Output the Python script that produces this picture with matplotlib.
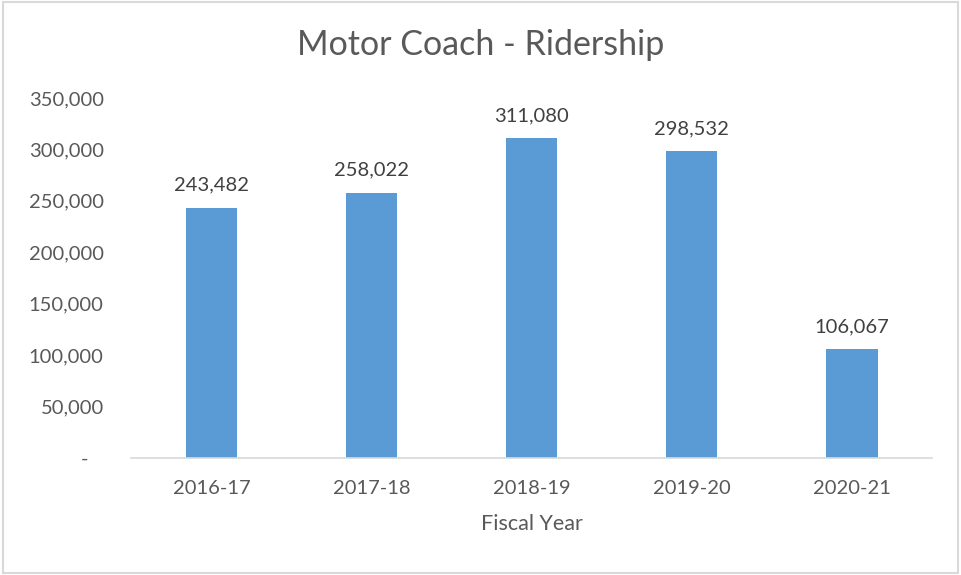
import matplotlib.pyplot as plt
from matplotlib.ticker import FuncFormatter

# Data
years = ["2016-17", "2017-18", "2018-19", "2019-20", "2020-21"]
ridership = [243482, 258022, 311080, 298532, 106067]
yticks = [0, 50000, 100000, 150000, 200000, 250000, 300000, 350000]

bar_color = "#5B9BD5"
text_color = "#595959"
plt.rcParams['font.family'] = ['Lato', 'DejaVu Sans']

fig = plt.figure(figsize=(9.61, 5.75), dpi=100)
ax = fig.add_axes([0.1368, 0.2035, 0.8330, 0.6261])

x = range(len(years))
bars = ax.bar(x, ridership, width=0.32, color=bar_color, zorder=2)

# data labels above bars
for b, v in zip(bars, ridership):
    ax.annotate(f"{v:,}", (b.get_x() + b.get_width() / 2, v),
                xytext=(0, 10), textcoords="offset points",
                ha="center", va="bottom", fontsize=14.5, color="#404040")

ax.set_xlim(-0.5, len(years) - 0.5)
ax.set_ylim(0, 350000)
ax.set_xticks(list(x))
ax.set_xticklabels(years)
ax.set_yticks(yticks)
ax.yaxis.set_major_formatter(FuncFormatter(lambda v, p: f"{int(v):,}" if v else "-   "))

ax.tick_params(axis="both", length=0, labelsize=14.5, colors=text_color)
ax.tick_params(axis="y", pad=20)
ax.tick_params(axis="x", pad=16)

for side in ["top", "right", "left"]:
    ax.spines[side].set_visible(False)
ax.spines["bottom"].set_color("#D9D9D9")
ax.spines["bottom"].set_linewidth(1.2)

ax.set_xlabel("Fiscal Year", fontsize=15.5, color=text_color, labelpad=12)
fig.text(0.5006, 0.922, "Motor Coach - Ridership", ha="center", va="center",
         fontsize=24.5, color=text_color)

# chart border
fig.patches.append(plt.Rectangle((0.003, 0.003), 0.994, 0.994, transform=fig.transFigure,
                                 fill=False, edgecolor="#D9D9D9", linewidth=1.5))

fig.savefig("out.png", dpi=100)
